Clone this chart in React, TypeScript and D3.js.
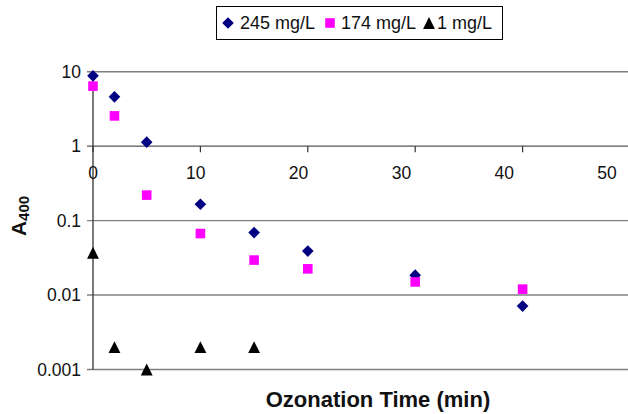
import React from "react";
import * as d3 from "d3";

const WIDTH = 628;
const HEIGHT = 414;

// ozonation time (min)
const TIMES = [0, 2, 5, 10, 15, 20, 30, 40];
const A_245 = [8.8, 4.6, 1.13, 0.166, 0.069, 0.039, 0.0185, 0.0071];
const A_174 = [6.4, 2.55, 0.22, 0.067, 0.0295, 0.0225, 0.015, 0.012];
const TIMES_1 = [0, 2, 5, 10, 15];
const A_1 = [0.037, 0.002, 0.001, 0.002, 0.002];

const X_TICKS = [0, 10, 20, 30, 40, 50];
const Y_TICKS = [10, 1, 0.1, 0.01, 0.001];
const Y_TICK_LABELS = ["10", "1", "0.1", "0.01", "0.001"];

const SERIES = [
  { name: "245 mg/L", x: TIMES, y: A_245, color: "#000080", shape: "diamond" },
  { name: "174 mg/L", x: TIMES, y: A_174, color: "#ff00ff", shape: "square" },
  { name: "1 mg/L", x: TIMES_1, y: A_1, color: "#000000", shape: "triangle" },
];

const FONT = "Liberation Sans, Arial, sans-serif";

// Excel's triangle marker is about as tall as it is wide
const tallTriangle = {
  draw(ctx: any, size: number) {
    const h = Math.sqrt(size);
    ctx.moveTo(0, -h / 2);
    ctx.lineTo(h / 2, h / 2);
    ctx.lineTo(-h / 2, h / 2);
    ctx.closePath();
  },
};

function markerPath(shape: string) {
  if (shape === "square") return d3.symbol(d3.symbolSquare, 92)();
  if (shape === "triangle") return d3.symbol(tallTriangle as any, 140)();
  return d3.symbol(d3.symbolSquare, 68)();
}

function Marker({ shape, color, x, y }: { shape: string; color: string; x: number; y: number }) {
  const rot = shape === "diamond" ? " rotate(45)" : "";
  return (
    <path d={markerPath(shape) || ""} transform={`translate(${x},${y})${rot}`} fill={color} />
  );
}

export default function App() {
  const x = d3.scaleLinear().domain([0, 50]).range([93, 630]);
  // Excel spaced the tick labels a bit tighter than the ticks themselves
  const xLabel = d3.scaleLinear().domain([0, 50]).range([93, 607]);
  const y = d3.scaleLog().domain([0.001, 10]).range([369.5, 71.7]);
  const axisY = y(1);

  return (
    <svg
      width={WIDTH}
      height={HEIGHT}
      style={{ position: "absolute", left: 0, top: 0, background: "#fff" }}
      fontFamily={FONT}
    >
      {/* gridlines */}
      {Y_TICKS.map((t) => (
        <line
          key={t}
          x1={87}
          x2={WIDTH}
          y1={y(t)}
          y2={y(t)}
          stroke={t === 1 ? "#555" : "#808080"}
          strokeWidth={1.4}
        />
      ))}
      {/* y axis */}
      <line x1={x(0)} x2={x(0)} y1={y(10)} y2={y(0.001)} stroke="#333" strokeWidth={1.3} />
      {Y_TICKS.map((t, i) => (
        <text key={t} x={81} y={y(t)} dy="0.35em" textAnchor="end" fontSize={17.5} fill="#111">
          {Y_TICK_LABELS[i]}
        </text>
      ))}
      {/* x axis crossing at 1 */}
      {X_TICKS.map((t) => (
        <g key={t}>
          <line x1={x(t)} x2={x(t)} y1={axisY} y2={axisY + 6} stroke="#333" strokeWidth={1.2} />
          <text x={xLabel(t)} y={179} textAnchor="middle" fontSize={17.5} fill="#111">
            {t}
          </text>
        </g>
      ))}

      {/* data */}
      {SERIES.map((s) =>
        s.x.map((t, i) => (
          <Marker key={s.name + i} shape={s.shape} color={s.color} x={x(t)} y={y(s.y[i])} />
        ))
      )}

      {/* axis titles */}
      <text
        transform={`translate(26,216) rotate(-90)`}
        textAnchor="middle"
        fontWeight="bold"
        fontSize={21}
        fill="#111"
      >
        A<tspan fontSize={15} dy={3}>400</tspan>
      </text>
      <text x={378} y={407} textAnchor="middle" fontWeight="bold" fontSize={22} fill="#111">
        Ozonation Time (min)
      </text>

      {/* legend */}
      <rect x={216.5} y={6.5} width={286} height={33} fill="#fff" stroke="#000" strokeWidth={1} />
      <Marker shape="diamond" color="#000080" x={228} y={23} />
      <text x={240} y={29} fontSize={18} fill="#111">245 mg/L</text>
      <Marker shape="square" color="#ff00ff" x={330} y={23} />
      <text x={341} y={29} fontSize={18} fill="#111">174 mg/L</text>
      <Marker shape="triangle" color="#000000" x={429} y={23} />
      <text x={437} y={29} fontSize={18} fill="#111">1 mg/L</text>
    </svg>
  );
}
